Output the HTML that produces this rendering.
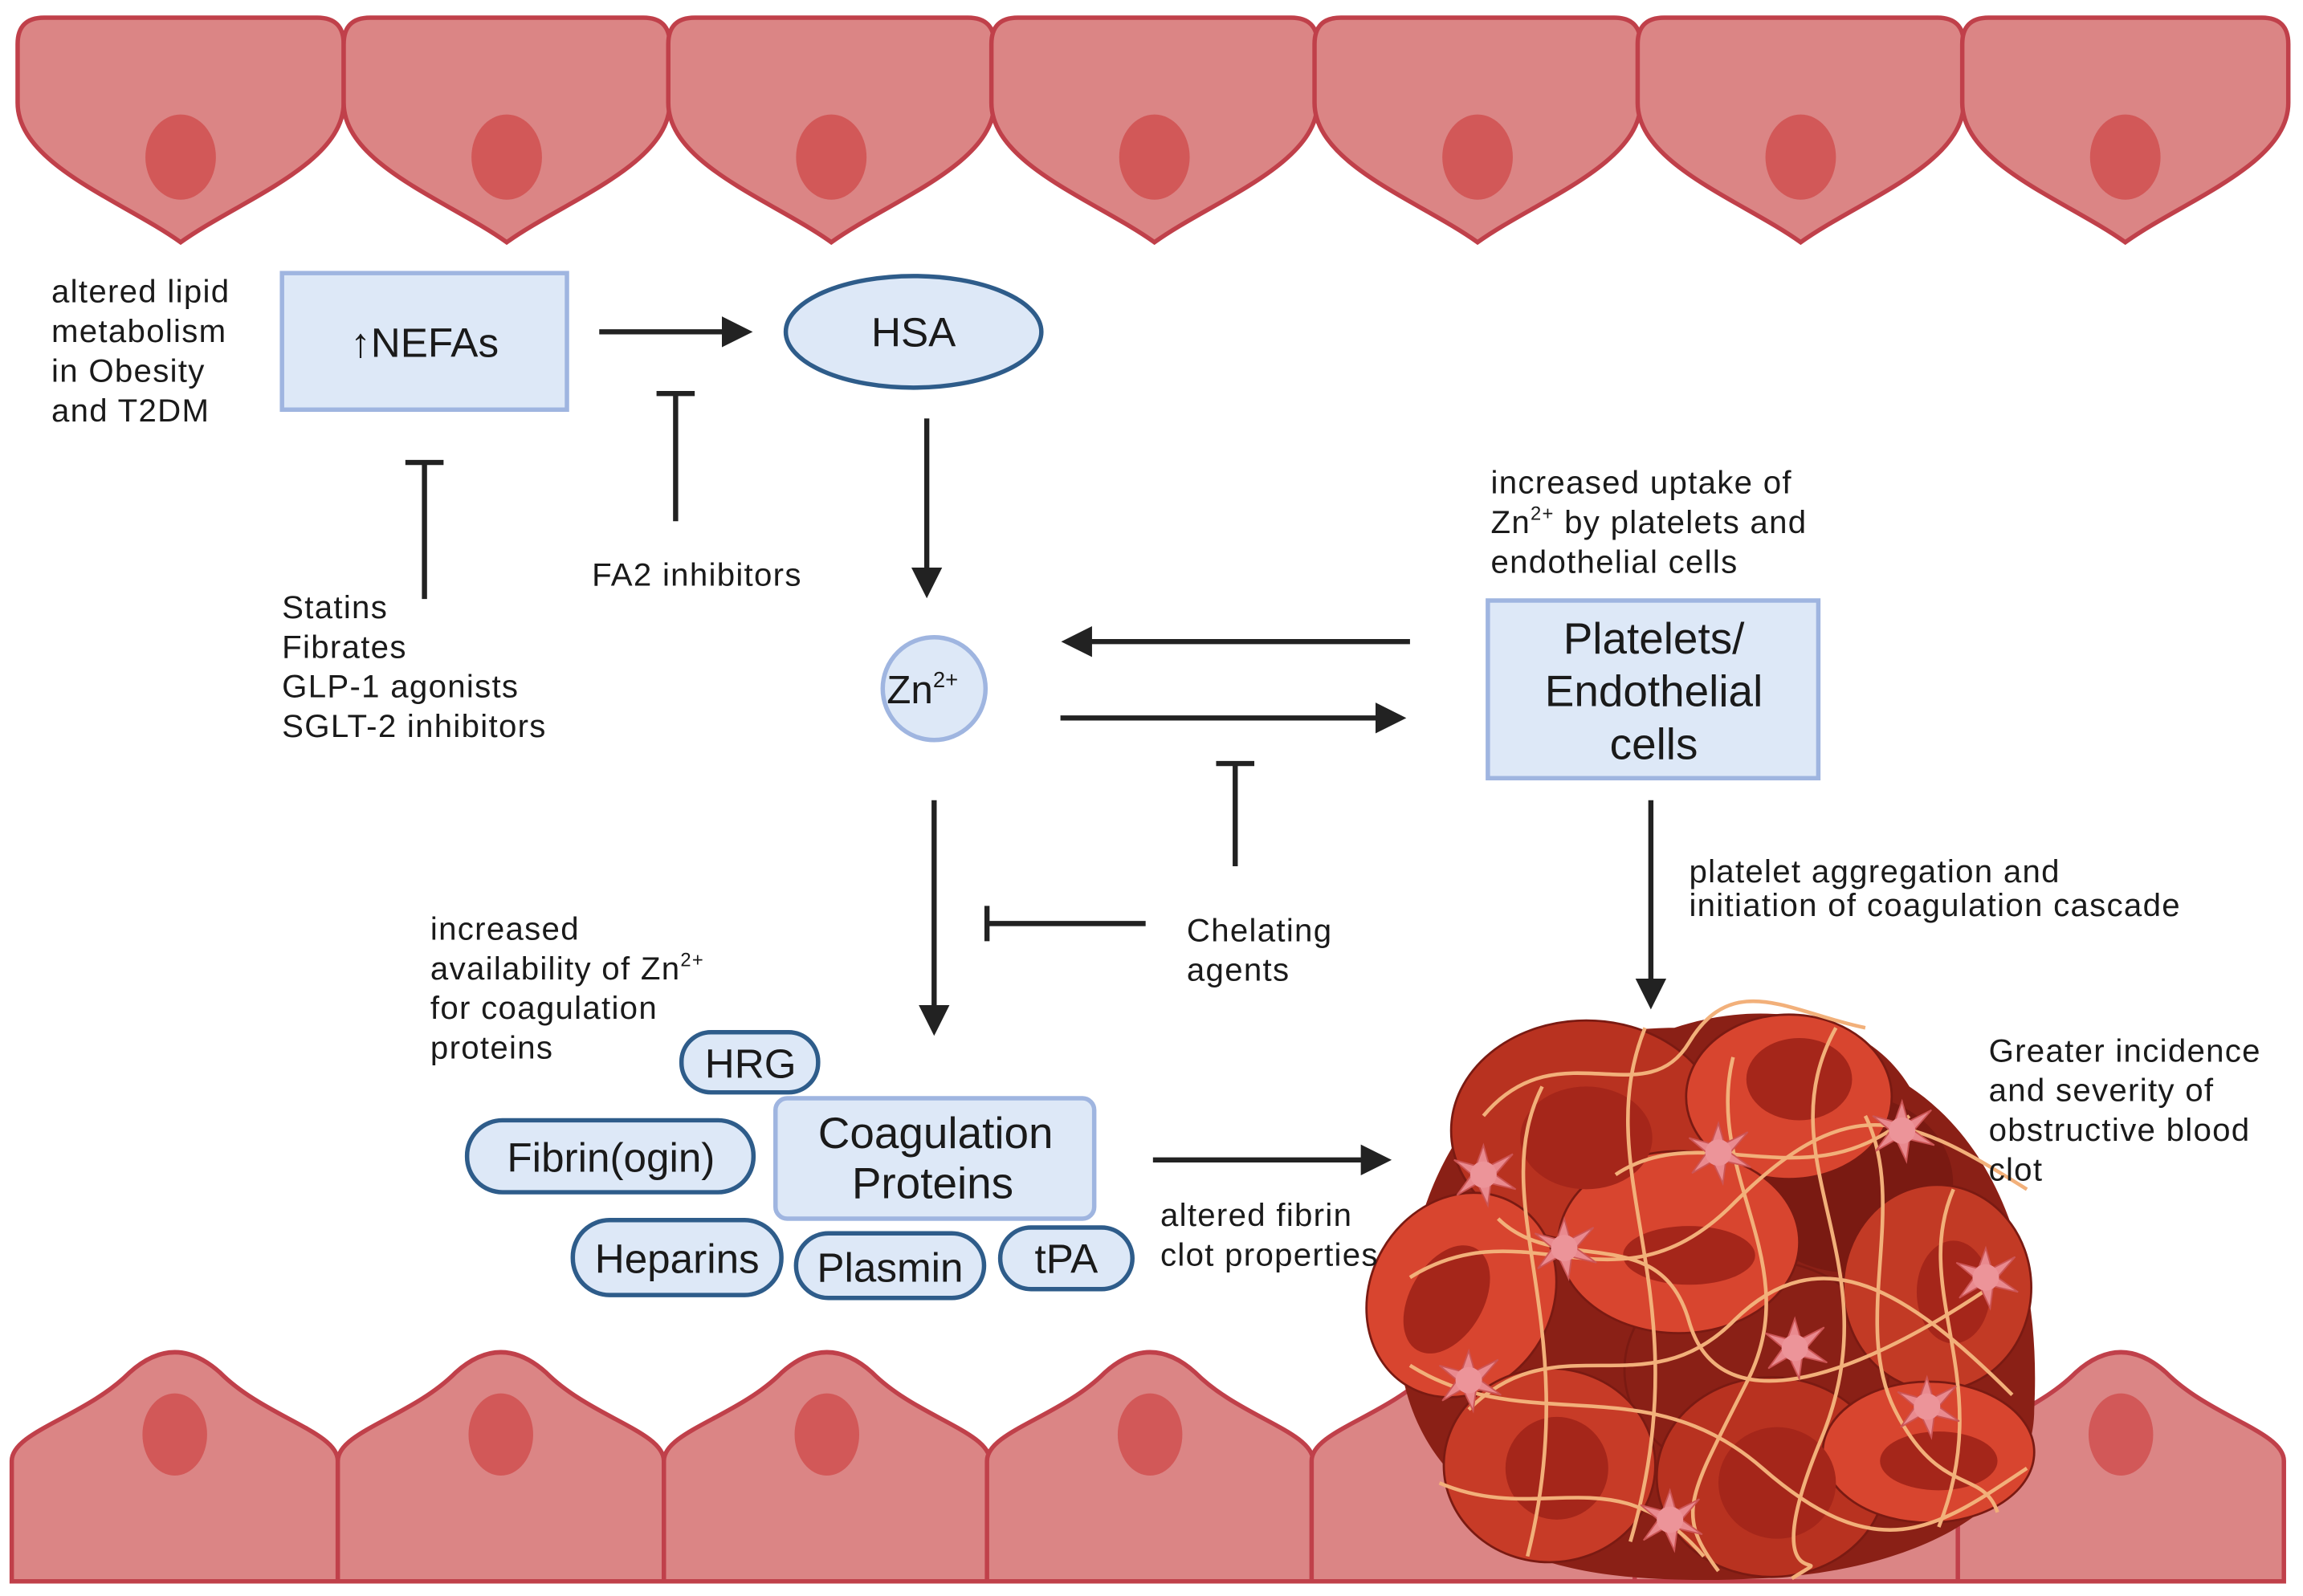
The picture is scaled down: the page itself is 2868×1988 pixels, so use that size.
<!DOCTYPE html>
<html><head><meta charset="utf-8"><style>
html,body{margin:0;padding:0;background:#fff}
svg{display:block}
text{font-family:"Liberation Sans",sans-serif;fill:#1a1a1a}
</style></head><body>
<svg width="2868" height="1988" viewBox="0 0 1568 1087" preserveAspectRatio="none" xmlns="http://www.w3.org/2000/svg">
<defs>
<g id="tc"><path d="M0,18 Q0,0 18,0 L204,0 Q222,0 222,18 L222,58 C222,100 150,125 111,153 C72,125 0,100 0,58 Z" fill="#db8585" stroke="#c0404a" stroke-width="3"/><ellipse cx="111" cy="95" rx="24" ry="29" fill="#d25858"/></g>
<g id="bc"><path d="M0,162 L0,80 C0,60 50,50 80,20 Q111,-8 142,20 C172,50 222,60 222,80 L222,162 Z" fill="#db8585" stroke="#c0404a" stroke-width="3"/><ellipse cx="111" cy="62" rx="22" ry="28" fill="#d25858"/></g>
<g id="pl"><path d="M0,-20 L4,-6 L20,-14 L8,0 L22,10 L5,6 L3,21 L-4,6 L-18,14 L-8,0 L-20,-10 L-5,-6 Z" fill="#e98a8f" stroke="#c55" stroke-width="1"/><circle r="9" fill="#ec9499"/></g>
<marker id="ah" markerWidth="6" markerHeight="6" refX="1" refY="3" orient="auto" markerUnits="strokeWidth"><path d="M0,0 L6,3 L0,6 Z" fill="#222"/></marker>
</defs>
<use href="#tc" x="12" y="12"/><use href="#tc" x="234" y="12"/><use href="#tc" x="455" y="12"/><use href="#tc" x="675" y="12"/><use href="#tc" x="895" y="12"/><use href="#tc" x="1115" y="12"/><use href="#tc" x="1336" y="12"/>
<use href="#bc" x="8" y="915"/><use href="#bc" x="230" y="915"/><use href="#bc" x="452" y="915"/><use href="#bc" x="672" y="915"/><use href="#bc" x="893" y="915"/><use href="#bc" x="1113" y="915"/><use href="#bc" x="1333" y="915"/>

<!-- clot -->
<path d="M960,860 C980,760 1040,700 1140,700 C1200,680 1270,690 1300,740 C1360,780 1390,860 1385,960 C1385,1030 1300,1070 1200,1075 C1100,1080 1000,1070 985,1000 C950,960 945,900 960,860 Z" fill="#8a2016"/>
<g stroke="#7a1a12" stroke-width="1.5">
<ellipse cx="1196" cy="933" rx="90" ry="75" fill="#8a2016"/>
<ellipse cx="1259" cy="806" rx="70" ry="60" fill="#7a1a12"/>
<ellipse cx="1080" cy="770" rx="92" ry="75" fill="#b83220"/>
<ellipse cx="1218" cy="747" rx="70" ry="56" fill="#d8452f"/>
<ellipse cx="1319" cy="877" rx="64" ry="70" fill="#c23a25"/>
<ellipse cx="995" cy="882" rx="62" ry="72" fill="#d8452f" transform="rotate(30 995 882)"/>
<ellipse cx="1143" cy="846" rx="82" ry="62" fill="#d8452f"/>
<ellipse cx="1055" cy="998" rx="72" ry="66" fill="#c73b27"/>
<ellipse cx="1206" cy="1006" rx="78" ry="68" fill="#b83220"/>
<ellipse cx="1313" cy="989" rx="72" ry="48" fill="#d8452f"/>
</g>
<g fill="#a5261a">
<ellipse cx="1080" cy="775" rx="45" ry="35"/><ellipse cx="1225" cy="735" rx="36" ry="28"/><ellipse cx="985" cy="885" rx="25" ry="40" transform="rotate(30 985 885)"/><ellipse cx="1150" cy="855" rx="45" ry="20"/><ellipse cx="1330" cy="880" rx="25" ry="35"/><ellipse cx="1060" cy="1000" rx="35" ry="35"/><ellipse cx="1210" cy="1010" rx="40" ry="38"/><ellipse cx="1320" cy="995" rx="40" ry="20"/>
</g>
<g fill="none" stroke="#f2b07a" stroke-width="2.5">
<path d="M960,870 C1040,820 1100,900 1180,820 S1300,760 1380,810"/>
<path d="M1010,760 C1060,700 1120,760 1150,710 S1220,690 1270,700"/>
<path d="M1000,960 C1060,900 1120,960 1180,900 S1300,880 1370,950"/>
<path d="M1050,740 C1010,820 1080,900 1040,1060"/>
<path d="M1120,700 C1080,800 1160,880 1110,1050"/>
<path d="M1250,700 C1200,790 1290,860 1240,980 S1260,1050 1220,1075"/>
<path d="M1330,810 C1300,880 1360,940 1320,1040"/>
<path d="M960,930 C1040,980 1120,930 1200,1000 S1320,1040 1380,1000"/>
<path d="M1180,720 C1160,800 1230,860 1190,940 S1140,1030 1170,1070"/>
<path d="M980,1010 C1050,1040 1100,990 1160,1060"/>
<path d="M1100,800 C1160,760 1230,820 1300,760"/>
<path d="M1020,830 C1060,870 1130,830 1150,900 S1260,940 1350,880"/>
<path d="M1270,760 C1300,820 1260,900 1290,960 S1350,1000 1360,1030"/>
</g>
<use href="#pl" x="1010" y="800"/><use href="#pl" x="1065" y="850"/><use href="#pl" x="1170" y="785"/><use href="#pl" x="1295" y="770"/><use href="#pl" x="1352" y="870"/><use href="#pl" x="1222" y="918"/><use href="#pl" x="1000" y="940"/><use href="#pl" x="1312" y="958"/><use href="#pl" x="1137" y="1035"/>

<!-- shapes -->
<rect x="192" y="186" width="194" height="93" fill="#dde8f7" stroke="#9fb5e0" stroke-width="3"/>
<ellipse cx="622" cy="226" rx="87" ry="38" fill="#dde8f7" stroke="#2e5c8a" stroke-width="3"/>
<circle cx="636" cy="469" r="35" fill="#dde8f7" stroke="#9fb5e0" stroke-width="3"/>
<rect x="1013" y="409" width="225" height="121" fill="#dde8f7" stroke="#9fb5e0" stroke-width="3"/>
<rect x="528" y="748" width="217" height="82" rx="8" fill="#dde8f7" stroke="#9fb5e0" stroke-width="3"/>
<g fill="#dde8f7" stroke="#2e5c8a" stroke-width="3">
<rect x="464" y="703" width="93" height="41" rx="20"/>
<rect x="318" y="763" width="195" height="49" rx="24"/>
<rect x="390" y="831" width="142" height="51" rx="25"/>
<rect x="542" y="840" width="128" height="44" rx="22"/>
<rect x="681" y="836" width="90" height="42" rx="21"/>
</g>

<!-- arrows -->
<g stroke="#222" stroke-width="3.5" fill="none">
<line x1="408" y1="226" x2="495" y2="226" marker-end="url(#ah)"/>
<line x1="631" y1="285" x2="631" y2="390" marker-end="url(#ah)"/>
<line x1="960" y1="437" x2="740" y2="437" marker-end="url(#ah)"/>
<line x1="722" y1="489" x2="940" y2="489" marker-end="url(#ah)"/>
<line x1="636" y1="545" x2="636" y2="688" marker-end="url(#ah)"/>
<line x1="1124" y1="545" x2="1124" y2="670" marker-end="url(#ah)"/>
<line x1="785" y1="790" x2="930" y2="790" marker-end="url(#ah)"/>
<path d="M460,355 V268 M447,268 H473"/>
<path d="M289,408 V315 M276,315 H302"/>
<path d="M841,590 V520 M828,520 H854"/>
<path d="M780,629 H672 M672,617 V641"/>
</g>

<!-- text -->
<g font-size="22" letter-spacing="0.7">
<text x="35" y="206">altered lipid</text><text x="35" y="233">metabolism</text><text x="35" y="260">in  Obesity</text><text x="35" y="287">and T2DM</text>
<text x="403" y="399">FA2 inhibitors</text>
<text x="192" y="421">Statins</text><text x="192" y="448">Fibrates</text><text x="192" y="475">GLP-1 agonists</text><text x="192" y="502">SGLT-2 inhibitors</text>
<text x="1015" y="336">increased uptake of</text><text x="1015" y="363">Zn<tspan font-size="13" dy="-9">2+</tspan><tspan dy="9">  by platelets and</tspan></text><text x="1015" y="390">endothelial cells</text>
<text x="1150" y="601">platelet aggregation and</text><text x="1150" y="624">initiation of coagulation cascade</text>
<text x="293" y="640">increased</text><text x="293" y="667">availability of Zn<tspan font-size="13" dy="-9">2+</tspan></text><text x="293" y="694">for coagulation</text><text x="293" y="721">proteins</text>
<text x="808" y="641">Chelating</text><text x="808" y="668">agents</text>
<text x="1354" y="723">Greater incidence</text><text x="1354" y="750">and severity of</text><text x="1354" y="777">obstructive blood</text><text x="1354" y="804">clot</text>
<text x="790" y="835">altered fibrin</text><text x="790" y="862">clot properties</text>
</g>
<text x="289" y="243" font-size="28" text-anchor="middle">↑NEFAs</text>
<text x="622" y="236" font-size="28" text-anchor="middle">HSA</text>
<text x="628" y="479" font-size="27" text-anchor="middle">Zn<tspan font-size="15" dy="-11">2+</tspan></text>
<g font-size="30" text-anchor="middle">
<text x="1126" y="445">Platelets/</text><text x="1126" y="481">Endothelial</text><text x="1126" y="517">cells</text>
<text x="637" y="782">Coagulation</text><text x="635" y="816">Proteins</text>
</g>
<g font-size="28" text-anchor="middle">
<text x="511" y="734">HRG</text><text x="416" y="798">Fibrin(ogin)</text><text x="461" y="867">Heparins</text><text x="606" y="873">Plasmin</text><text x="726" y="867">tPA</text>
</g>
</svg>
</body></html>
